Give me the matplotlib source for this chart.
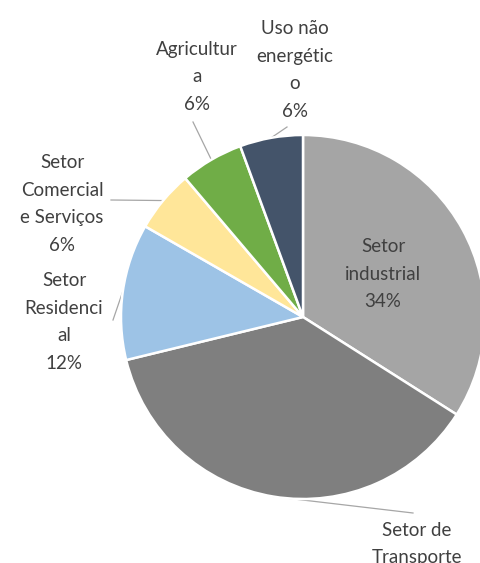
import numpy as np
import matplotlib
matplotlib.use('Agg')
import matplotlib.pyplot as plt

# Dados (percentual do consumo por setor)
setores = ['Setor\nindustrial', 'Setor de\nTransporte', 'Setor\nResidenci\nal',
           'Setor\nComercial\ne Serviços', 'Agricultur\na', 'Uso não\nenergétic\no']
valores = [34.0, 37.2, 12.1, 5.5, 5.6, 5.6]
cores = ['#A5A5A5', '#7F7F7F', '#9DC3E6', '#FFE699', '#70AD47', '#44546A']

# posição dos rótulos (pixels, origem em cima à esquerda) e fim da linha guia
pos_rotulo = [(383, 274), (417, 522), (64, 322), (62, 204), (197, 77), (295, 70)]
fim_linha = [None, (413, 513), (113, 320), (111, 200), (193, 122), (287, 127)]

W, H = 480, 563
cx, cy, r = 303, 317, 182

fig = plt.figure(figsize=(W / 100, H / 100), dpi=100)
ax = fig.add_axes([0, 0, 1, 1])

wedges, _ = ax.pie(valores, colors=cores, startangle=90, counterclock=False,
                   center=(cx, H - cy), radius=r, frame=True,
                   wedgeprops=dict(edgecolor='white', linewidth=1.8))
ax.set_xlim(0, W)
ax.set_ylim(0, H)
ax.set_aspect('equal')
ax.axis('off')

total = sum(valores)
for i, w in enumerate(wedges):
    pct = f"{valores[i] / total * 100:.0f}%"
    x, y = pos_rotulo[i]
    va = 'top' if i == 1 else 'center'
    ax.text(x, H - y, setores[i] + '\n' + pct,
            family=['Lato', 'DejaVu Sans'], fontsize=13.5, color='#404040',
            ha='center', va=va, linespacing=1.75)
    # linha guia da borda da fatia até o rótulo
    if fim_linha[i] is not None:
        ang = np.deg2rad((w.theta1 + w.theta2) / 2)
        x0 = cx + r * np.cos(ang)
        y0 = (H - cy) + r * np.sin(ang)
        x1, y1 = fim_linha[i]
        ax.plot([x0, x1], [y0, H - y1], color='#A6A6A6', lw=0.9, zorder=0.5)

fig.savefig('out.png', dpi=100)
